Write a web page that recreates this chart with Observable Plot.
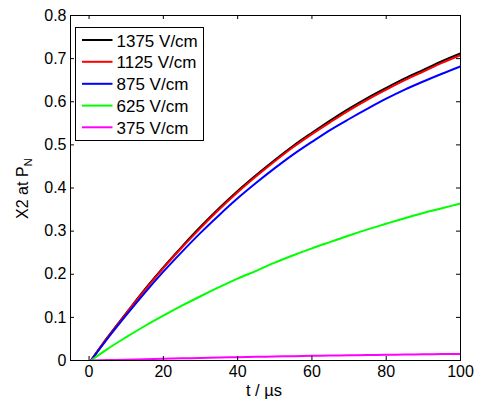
<!DOCTYPE html>
<html>
<head>
<meta charset="utf-8">
<script src="https://cdn.jsdelivr.net/npm/d3@7"></script>
<script src="https://cdn.jsdelivr.net/npm/@observablehq/plot@0.6"></script>
<style>
  html, body { margin: 0; padding: 0; background: #fff; }
  svg { display: block; }
</style>
</head>
<body>
<div id="chart"></div>
<script>
const seriesNames = ["1375 V/cm", "1125 V/cm", "875 V/cm", "625 V/cm", "375 V/cm"];
const seriesColors = ["#000000", "#ff0000", "#0000ff", "#00ff00", "#ff00ff"];
const tValues = [0.5, 5, 10, 15, 20, 25, 30, 35, 40, 45, 50, 55, 60, 65, 70, 75, 80, 85, 90, 95, 100];
const v1375 = [0, 0.054, 0.110, 0.165, 0.216, 0.264, 0.310, 0.353, 0.393, 0.430, 0.465, 0.498, 0.528, 0.557, 0.584, 0.609, 0.632, 0.654, 0.674, 0.694, 0.712];
const v1125 = [0, 0.053, 0.109, 0.163, 0.214, 0.262, 0.307, 0.350, 0.390, 0.427, 0.462, 0.495, 0.525, 0.553, 0.580, 0.605, 0.628, 0.650, 0.670, 0.690, 0.708];
const v875  = [0, 0.051, 0.105, 0.157, 0.206, 0.252, 0.296, 0.337, 0.376, 0.412, 0.446, 0.478, 0.507, 0.535, 0.560, 0.584, 0.607, 0.628, 0.647, 0.665, 0.682];
const v625  = [0, 0.027, 0.054, 0.080, 0.104, 0.127, 0.149, 0.170, 0.190, 0.208, 0.227, 0.244, 0.260, 0.275, 0.290, 0.304, 0.317, 0.330, 0.342, 0.353, 0.364];
const v375  = [0, 0.001, 0.002, 0.003, 0.004, 0.005, 0.006, 0.007, 0.0078, 0.0085, 0.0093, 0.010, 0.0108, 0.0115, 0.012, 0.0127, 0.0133, 0.0138, 0.0143, 0.0148, 0.0152];
const xTicks = [0, 20, 40, 60, 80, 100];
const yTicks = [0, 0.1, 0.2, 0.3, 0.4, 0.5, 0.6, 0.7, 0.8];
const xLabel = "t / µs";
const yLabelMain = "X2 at P";
const yLabelSub = "N";

const allValues = [v1375, v1125, v875, v625, v375];
const data = [];
seriesNames.forEach((name, i) => {
  tValues.forEach((t, j) => data.push({series: name, t, v: allValues[i][j]}));
});

const W = 479, H = 407;
const mL = 70, mR = 19, mT = 15, mB = 47;
const innerW = W - mL - mR, innerH = H - mT - mB;
const tickLen = 4;
const fontFamily = "'Liberation Sans', Arial, Helvetica, sans-serif";

const plot = Plot.plot({
  width: W, height: H,
  marginLeft: mL, marginRight: mR, marginTop: mT, marginBottom: mB,
  style: {fontFamily, fontSize: "16px", color: "black", background: "white", overflow: "visible"},
  x: {domain: [-5, 100], axis: null},
  y: {domain: [0, 0.8], axis: null},
  color: {domain: seriesNames, range: seriesColors},
  marks: [
    Plot.line(data, {x: "t", y: "v", z: "series", stroke: "series", strokeWidth: 2, curve: "monotone-x", clip: true}),
    Plot.frame({stroke: "black", strokeWidth: 1}),
    Plot.ruleX(xTicks, {x: d => d, stroke: "black", insetTop: innerH - tickLen}),
    Plot.ruleX(xTicks, {x: d => d, stroke: "black", insetBottom: innerH - tickLen}),
    Plot.ruleY(yTicks, {y: d => d, stroke: "black", insetRight: innerW - tickLen}),
    Plot.ruleY(yTicks, {y: d => d, stroke: "black", insetLeft: innerW - tickLen}),
    Plot.axisX(xTicks, {anchor: "bottom", tickSize: 0, tickPadding: 5, label: null, tickFormat: d => String(d), fontSize: 16}),
    Plot.axisY(yTicks, {anchor: "left", tickSize: 0, tickPadding: 4, label: null, tickFormat: d => String(d), fontSize: 16})
  ]
});

document.getElementById("chart").appendChild(plot);

const svg = d3.select(plot);
// axis titles
svg.append("text")
  .attr("x", mL + innerW / 2 - 1)
  .attr("y", 396)
  .attr("text-anchor", "middle")
  .attr("font-family", fontFamily)
  .attr("font-size", 16.5)
  .attr("fill", "black")
  .text(xLabel);

const yl = svg.append("text")
  .attr("transform", `translate(27.5,${mT + innerH / 2 + 1}) rotate(-90)`)
  .attr("text-anchor", "middle")
  .attr("font-family", fontFamily)
  .attr("font-size", 16)
  .attr("fill", "black");
yl.append("tspan").text(yLabelMain);
yl.append("tspan").attr("font-size", 11.5).attr("dy", 4).text(yLabelSub);

// legend
const lg = svg.append("g");
lg.append("rect")
  .attr("x", 75.5).attr("y", 27.5)
  .attr("width", 128).attr("height", 113)
  .attr("fill", "white").attr("stroke", "black").attr("stroke-width", 1);
const rowY = [40, 61.8, 83.8, 105.6, 127.3];
seriesNames.forEach((name, i) => {
  lg.append("line")
    .attr("x1", 82).attr("x2", 112.5)
    .attr("y1", rowY[i]).attr("y2", rowY[i])
    .attr("stroke", seriesColors[i]).attr("stroke-width", 2);
  lg.append("text")
    .attr("x", 116.5).attr("y", rowY[i] + 6.5)
    .attr("text-anchor", "start")
    .attr("font-family", fontFamily).attr("font-size", 17)
    .attr("fill", "black")
    .text(name);
});
</script>
</body>
</html>
